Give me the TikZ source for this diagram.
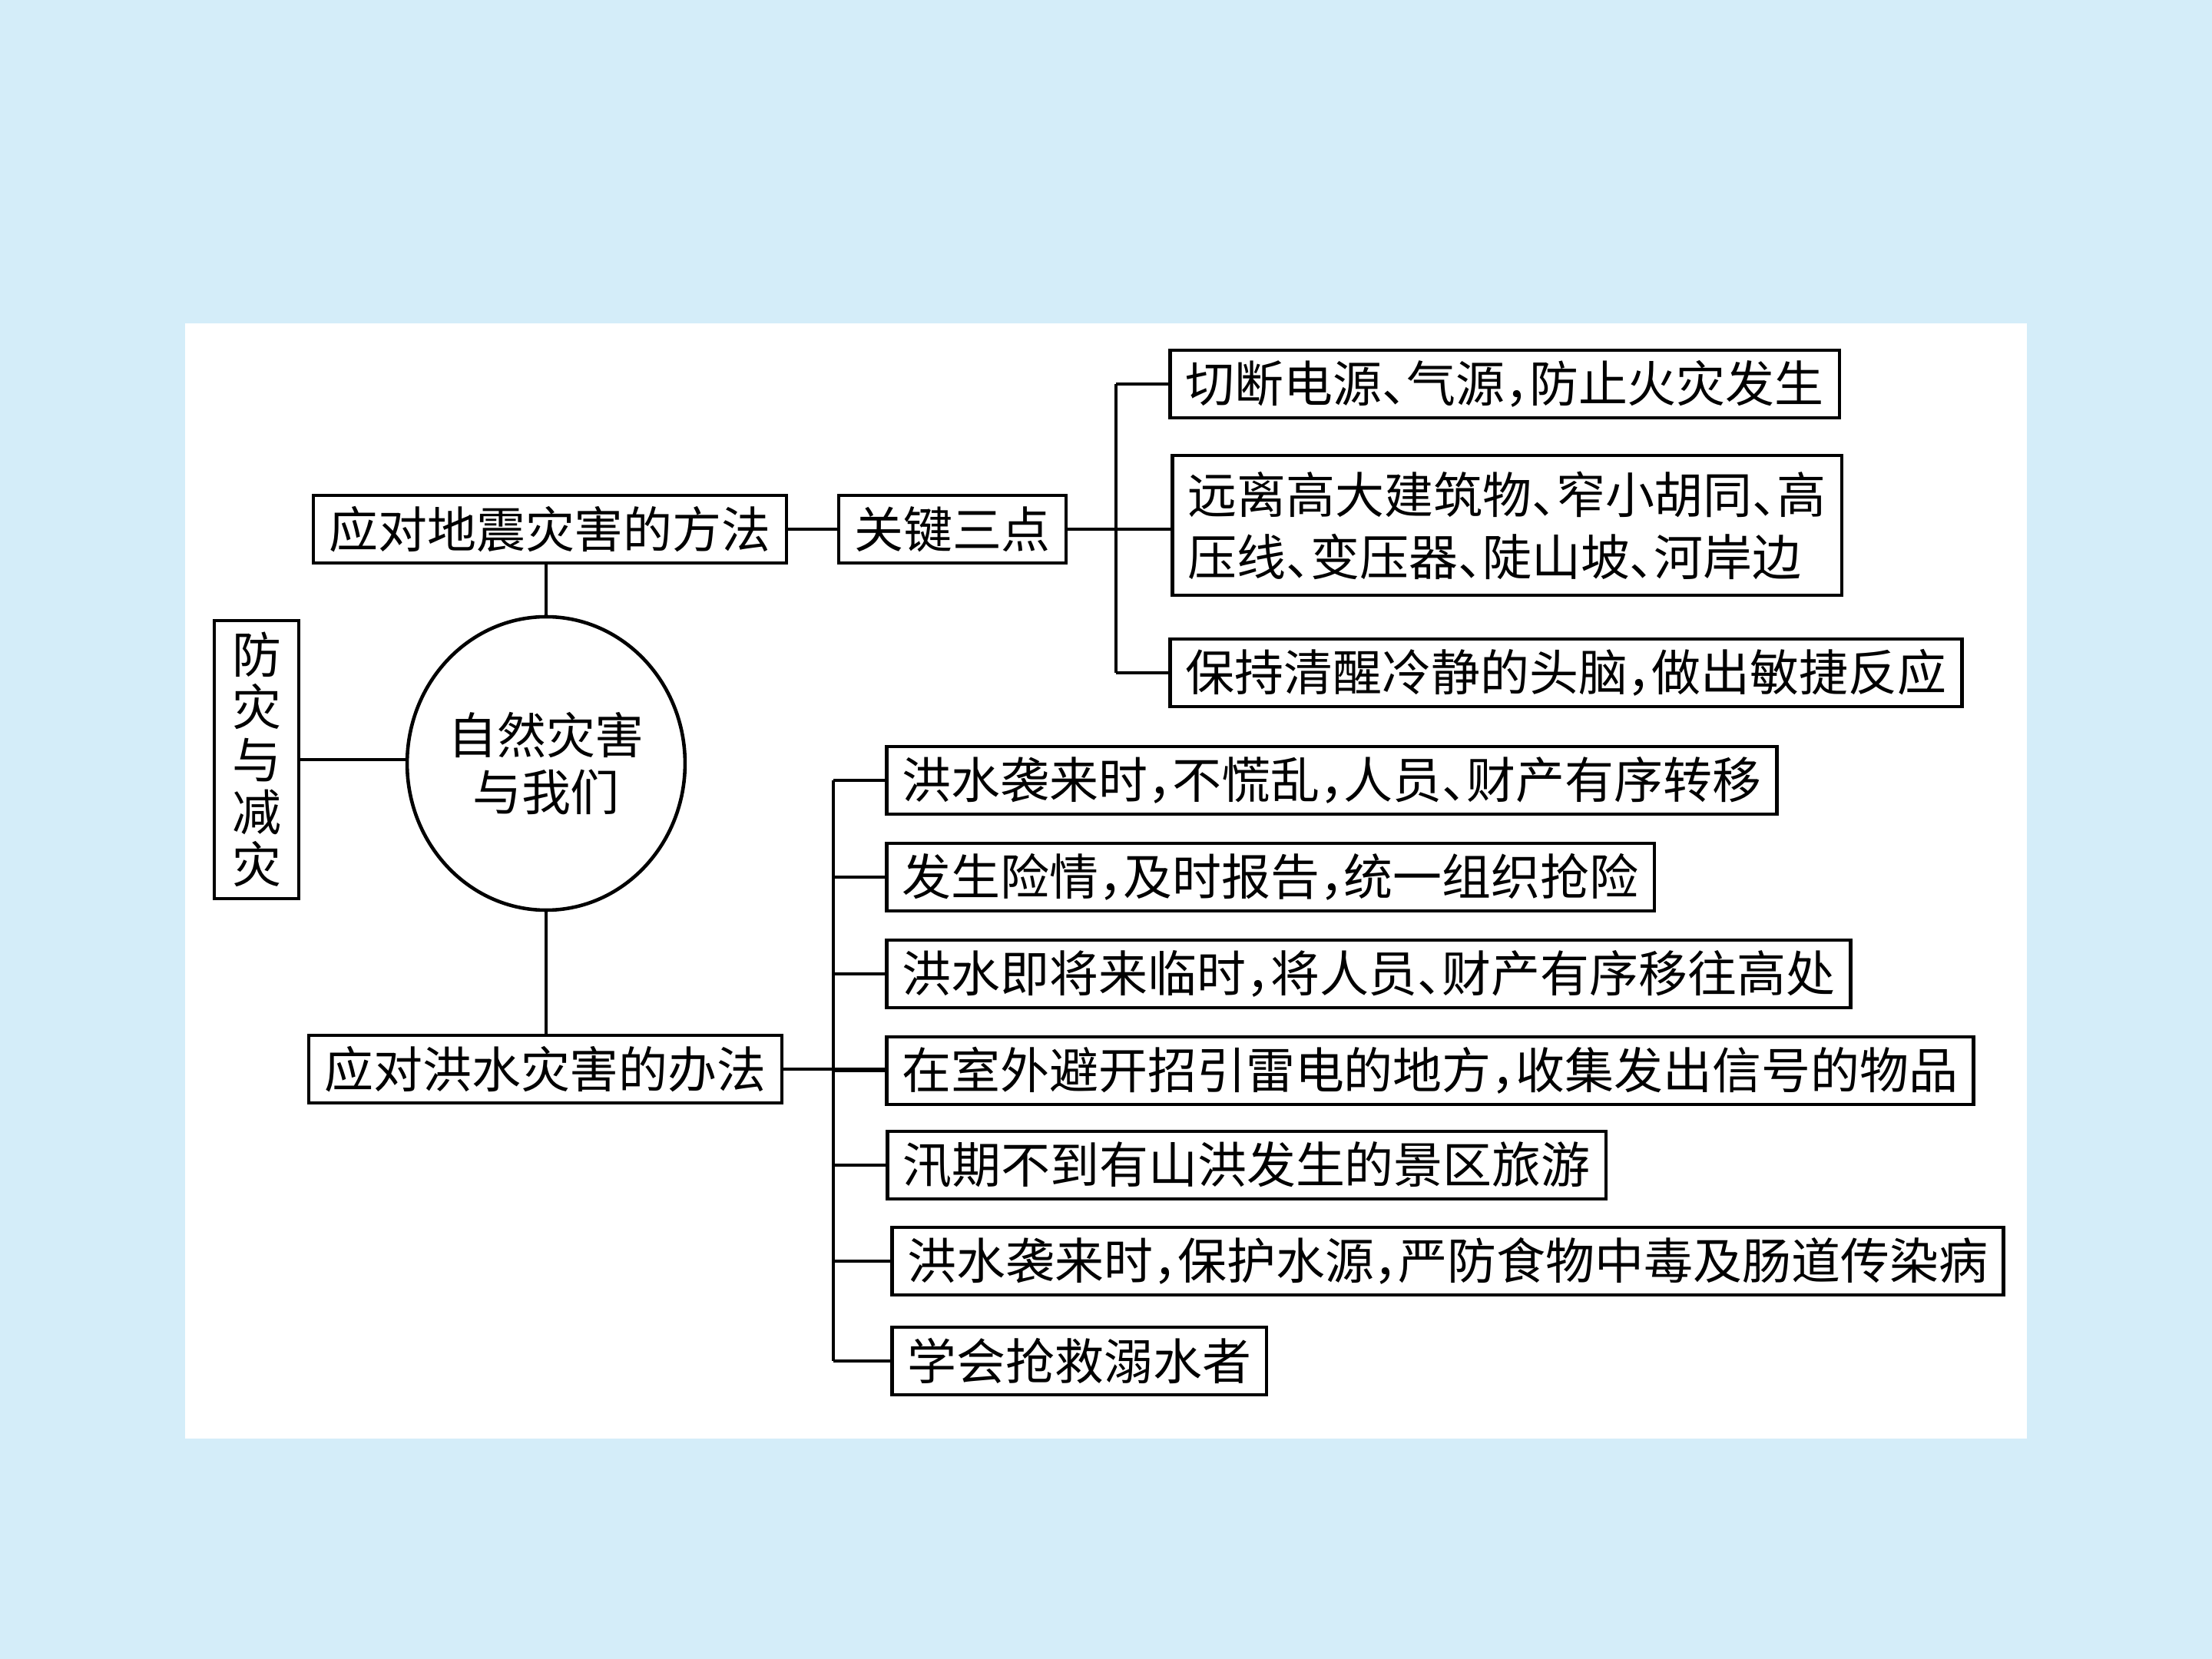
\documentclass[tikz,border=0pt]{standalone}
\usepackage{fontspec}
\newfontfamily\cjk[RawFeature=+halt]{Noto Sans CJK SC}
\usetikzlibrary{shapes.geometric}

\definecolor{skybg}{RGB}{212,237,249}

\begin{document}
\begin{tikzpicture}[box/.style={draw, line width=1.3pt, fill=white, font=\cjk\fontsize{18.2}{23}\selectfont, inner xsep=0.2cm, inner ysep=0.05cm, minimum height=0.88cm, align=left}, link/.style={line width=0.9pt}]

\fill[skybg] (0,0) rectangle (28.8,-21.6);
\fill[white] (2.41,-4.21) rectangle (26.39,-18.73);

\node[box, align=center, font=\cjk\fontsize{18.2}{19.4}\selectfont, minimum width=1.10cm, minimum height=3.62cm] (relief) at (3.34,-9.89) {防\\灾\\与\\减\\灾};
\node[draw, line width=1.3pt, ellipse, minimum width=3.56cm, minimum height=3.82cm, inner sep=0pt, align=center, font=\cjk\fontsize{18.2}{21.3}\selectfont] (nature) at (7.11,-9.94) {自然灾害\\与我们};

\node[box, minimum width=6.06cm] (quake) at (7.16,-6.89) {应对地震灾害的方法};
\node[box, minimum width=2.86cm] (keys) at (12.40,-6.89) {关键三点};
\node[box, anchor=west] (q1) at (15.21,-5.00) {切断电源、气源，防止火灾发生};
\node[box, anchor=west, minimum height=1.82cm] (q2) at (15.24,-6.84) {远离高大建筑物、窄小胡同、高\\压线、变压器、陡山坡、河岸边};
\node[box, anchor=west] (q3) at (15.21,-8.76) {保持清醒冷静的头脑，做出敏捷反应};

\node[box, minimum width=6.12cm] (flood) at (7.10,-13.92) {应对洪水灾害的办法};
\node[box, anchor=west] (f1) at (11.52,-10.16) {洪水袭来时，不慌乱，人员、财产有序转移};
\node[box, anchor=west] (f2) at (11.52,-11.42) {发生险情，及时报告，统一组织抢险};
\node[box, anchor=west] (f3) at (11.52,-12.68) {洪水即将来临时，将人员、财产有序移往高处};
\node[box, anchor=west] (f4) at (11.52,-13.94) {在室外避开招引雷电的地方，收集发出信号的物品};
\node[box, anchor=west] (f5) at (11.53,-15.17) {汛期不到有山洪发生的景区旅游};
\node[box, anchor=west] (f6) at (11.59,-16.42) {洪水袭来时，保护水源，严防食物中毒及肠道传染病};
\node[box, anchor=west] (f7) at (11.59,-17.72) {学会抢救溺水者};

\coordinate (qfork) at (14.53,-5.00);
\coordinate (ffork) at (10.85,-10.16);

% centre links
\draw[link] (relief.east) -- (relief.east -| nature.west);
\draw[link] (nature.north) -- (nature.north |- quake.south);
\draw[link] (nature.south) -- (nature.south |- flood.north);

% earthquake branch
\draw[link] (quake.east) -- (keys.west);
\draw[link] (keys.east) -- (keys.east -| q2.west);
\draw[link] (q1.west -| qfork) -- (q3.west -| qfork);
\foreach \i in {1,3}
  \draw[link] (q\i.west) -- (q\i.west -| qfork);

% flood branch
\draw[link] (flood.east) -- (flood.east -| f4.west);
\draw[link] (f1.west -| ffork) -- (f7.west -| ffork);
\foreach \i in {1,...,7}
  \draw[link] (f\i.west) -- (f\i.west -| ffork);

\end{tikzpicture}
\end{document}
